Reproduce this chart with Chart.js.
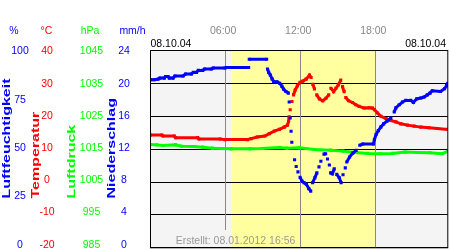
<!DOCTYPE html>
<html>
<head>
<meta charset="utf-8">
<title>Wetter 08.10.04</title>
<script src="https://cdn.jsdelivr.net/npm/chart.js@4.4.1/dist/chart.umd.min.js"></script>
<style>
    body { margin: 0; background: #fff; }
    #wrap { width: 450px; height: 250px; }
</style>
</head>
<body>
<div id="wrap"><canvas id="weatherChart" width="450" height="250"></canvas></div>
<script>
// Readings taken off the chart: [hour of day, value]
const humidity = [
    [0, 85.2], [0.3, 85.2], [0.6, 85.5], [0.75, 86], [1.1, 86], [1.2, 86.8], [1.4, 86.8], [1.5, 86],
    [1.8, 86], [1.95, 87.1], [2.6, 87.1], [2.8, 88.1], [3.27, 88.1], [3.42, 88.9], [3.67, 88.9],
    [3.82, 89.9], [4.17, 89.9], [4.32, 90.6], [4.86, 90.6], [5.01, 91.1], [5.95, 91.1], [6.05, 91.4],
    [7.84, 91.4], [7.89, 95.6], [9.28, 95.6], [9.35, 90.6], [9.44, 88.9], [9.57, 87.6], [9.71, 85.6],
    [9.84, 84.3], [10.11, 84.1], [10.32, 83.4], [10.5, 81.8], [10.63, 80.4], [10.82, 79.2],
    [11.01, 78.4], [11.08, 73.9], [11.16, 65.8], [11.23, 59.1], [11.29, 53.5], [11.51, 44.6],
    [11.64, 41.2], [11.78, 38.5], [11.95, 35.7], [12.1, 33.8], [12.27, 33], [12.45, 32.2],
    [12.65, 30], [12.8, 28.7], [12.95, 33], [13.13, 35.5], [13.29, 38], [13.46, 41], [13.61, 43.9],
    [13.86, 47.5], [13.99, 47.7], [14.14, 45], [14.29, 42], [14.39, 38], [14.53, 37.5], [14.68, 40],
    [14.88, 37.2], [15.08, 35.5], [15.23, 33], [15.38, 37], [15.56, 40.5], [15.68, 43.5], [15.9, 46],
    [16.16, 48], [16.43, 49.4], [16.72, 52], [16.96, 52.6], [17.81, 52.6], [17.89, 54.9],
    [18.02, 57.4], [18.2, 59.4], [18.41, 61.3], [18.62, 62.8], [18.89, 64.2], [19.2, 65.8],
    [19.47, 68.8], [19.6, 70.9], [19.87, 72.5], [20.13, 73.9], [20.4, 74.7], [20.79, 74.7],
    [21.0, 73.7], [21.27, 75.5], [21.59, 75.9], [21.85, 76.4], [22.11, 77.5], [22.33, 78.4],
    [22.51, 79.6], [23.17, 79.2], [23.49, 80.6], [23.65, 82.2], [23.75, 83.4]
];
const temperature = [
    [0, 14.3], [0.9, 14.3], [1.0, 14.0], [1.9, 14.0], [2.0, 13.5], [3.77, 13.5], [3.87, 13.1],
    [5.56, 13.1], [5.95, 12.9], [7.74, 12.9], [8.04, 13.2], [8.53, 13.7], [9.13, 14.0], [9.49, 14.7],
    [9.89, 15.5], [10.29, 16], [10.68, 16.7], [10.95, 17.3], [11.03, 18.5], [11.08, 19.8],
    [11.16, 22], [11.3, 24.5], [11.43, 26.5], [11.56, 28], [11.74, 29.3], [11.95, 30.3],
    [12.17, 30.7], [12.43, 31.3], [12.7, 32.5], [12.83, 31.8], [12.97, 29.7], [13.1, 28.3],
    [13.28, 26.5], [13.49, 25.3], [13.76, 24.7], [14.02, 25.5], [14.24, 26.5], [14.41, 28.5],
    [14.63, 27.5], [14.81, 28.5], [15.0, 29.5], [15.2, 31], [15.34, 29], [15.47, 27.5], [15.6, 25.7],
    [15.82, 24.7], [16.14, 24.2], [16.4, 23.5], [16.66, 23], [17.06, 22.5], [17.46, 22.6],
    [17.73, 22.5], [17.89, 22], [18.14, 21], [18.41, 20], [18.81, 19.3], [19.2, 18.7], [19.6, 18.3],
    [20.0, 17.7], [20.53, 17.3], [21.06, 17], [21.59, 16.7], [22.25, 16.5], [22.91, 16.3], [23.75, 16]
];
const pressure = [
    [0, 1016.4], [0.5, 1016.3], [1, 1016.1], [2, 1016.3], [2.5, 1015.9], [3.47, 1015.8],
    [4.17, 1015.6], [4.96, 1015.3], [6.45, 1015.1], [7.94, 1015.1], [8.93, 1015.2], [10.3, 1015.5],
    [10.9, 1015.3], [11.9, 1015.4], [13.1, 1014.9], [14.4, 1014.7], [15.38, 1014.4], [16.37, 1014],
    [17.36, 1013.7], [18.35, 1013.6], [19.35, 1013.7], [20.34, 1014.1], [21.33, 1014], [22.32, 1013.9],
    [23.3, 1013.6], [23.75, 1014.3]
];

// Axis ticks
const humTicks = [0, 25, 50, 75, 100];
const tempTicks = [-20, -10, 0, 10, 20, 30, 40];
const pressTicks = [985, 995, 1005, 1015, 1025, 1035, 1045];
const rainTicks = [0, 4, 8, 12, 16, 20, 24];
const timeTicks = [6, 12, 18];
const timeLabels = ['06:00', '12:00', '18:00'];
const daylight = [6.45, 18.0];
const dateLabel = '08.10.04';
const createdLabel = 'Erstellt: 08.01.2012 16:56';

const FONT = '"Liberation Sans", Arial, sans-serif';
const BLUE = '#0000ff', RED = '#ff0000', GREEN = '#00ff00';

function makeSeries(points, color, axis) {
    return {
        data: points.map(p => ({ x: p[0], y: p[1] })),
        yAxisID: axis,
        borderColor: color,
        backgroundColor: color,
        borderWidth: 3,
        pointStyle: 'rect',
        pointRadius: 2.2,
        pointHoverRadius: 2.2,
        pointBorderWidth: 0,
        tension: 0,
        // big jumps show up as loose dots in the original, not as a line
        segment: { borderColor: ctx => Math.abs(ctx.p1.y - ctx.p0.y) > 5 ? 'transparent' : color }
    };
}

// label column: compressed a little, like the original
function labelY(scale, v) {
    const px = scale.getPixelForValue(v);
    return scale.top + (px - scale.top) * 0.98;
}

const backdrop = {
    id: 'backdrop',
    beforeDatasetsDraw(chart) {
        const { ctx, chartArea: a, scales } = chart;
        const x = scales.x;
        ctx.save();
        ctx.fillStyle = '#f4f4f4';
        ctx.fillRect(a.left, a.top, a.right - a.left, a.bottom - a.top);

        // daylight band
        const x0 = x.getPixelForValue(daylight[0]);
        const x1 = x.getPixelForValue(daylight[1]);
        ctx.fillStyle = '#ffffa0';
        ctx.fillRect(x0, a.top, x1 - x0, a.bottom - a.top);

        // horizontal lines
        ctx.strokeStyle = '#000';
        ctx.lineWidth = 1;
        tempTicks.forEach(t => {
            const y = Math.floor(scales.yTemp.getPixelForValue(t)) + 0.5;
            ctx.beginPath();
            ctx.moveTo(a.left, y);
            ctx.lineTo(a.right, y);
            ctx.stroke();
        });

        // vertical hour lines, kept clear of the footer text
        ctx.font = '10.5px ' + FONT;
        const cx = 235.5;
        const w = ctx.measureText(createdLabel).width;
        ctx.strokeStyle = '#888';
        timeTicks.forEach(t => {
            const px = Math.floor(x.getPixelForValue(t)) + 0.5;
            const end = (px > cx - w / 2 && px < cx + w / 2) ? 230 : a.bottom;
            ctx.beginPath();
            ctx.moveTo(px, a.top);
            ctx.lineTo(px, end);
            ctx.stroke();
        });
        ctx.restore();
    },
    afterDraw(chart) {
        const { ctx, chartArea: a, scales } = chart;
        ctx.save();

        // frame
        ctx.strokeStyle = '#000';
        ctx.lineWidth = 1;
        ctx.strokeRect(a.left, a.top, a.right - a.left, a.bottom - a.top);

        ctx.font = '10.5px ' + FONT;
        ctx.textAlign = 'center';
        ctx.textBaseline = 'alphabetic';

        // unit headers
        [['%', 14, BLUE], ['°C', 46.5, RED], ['hPa', 90, GREEN], ['mm/h', 132.5, BLUE]].forEach(h => {
            ctx.fillStyle = h[2];
            ctx.fillText(h[0], h[1], 34);
        });

        // tick columns
        const cols = [
            [humTicks, scales.yHum, 20, BLUE],
            [tempTicks, scales.yTemp, 47, RED],
            [pressTicks, scales.yPress, 91.5, GREEN],
            [rainTicks, scales.yRain, 124, BLUE]
        ];
        cols.forEach(([ticks, scale, cx, color]) => {
            ctx.fillStyle = color;
            ticks.forEach(v => ctx.fillText(String(v), cx, labelY(scale, v) + 3.8));
        });

        // rotated axis titles (stretched like the original)
        ctx.font = 'bold 10px ' + FONT;
        ctx.textAlign = 'left';
        [['Luftfeuchtigkeit', 9.5, BLUE], ['Temperatur', 38.5, RED], ['Luftdruck', 75, GREEN], ['Niederschlag', 115, BLUE]].forEach(t => {
            ctx.save();
            ctx.translate(t[1], 198.5);
            ctx.rotate(-Math.PI / 2);
            ctx.scale(1.6, 1);
            ctx.fillStyle = t[2];
            ctx.fillText(t[0], 0, 0);
            ctx.restore();
        });

        // dates and hours on top
        ctx.font = '10.5px ' + FONT;
        ctx.fillStyle = '#000';
        ctx.textAlign = 'left';
        ctx.fillText(dateLabel, a.left, 47);
        ctx.textAlign = 'right';
        ctx.fillText(dateLabel, 446, 47);

        ctx.fillStyle = '#888';
        ctx.textAlign = 'center';
        timeTicks.forEach((t, i) => {
            ctx.fillText(timeLabels[i], scales.x.getPixelForValue(t) - 2.5, 33.5);
        });

        // footer
        ctx.fillStyle = '#999';
        ctx.fillText(createdLabel, 235.5, 244);
        ctx.restore();
    }
};

new Chart(document.getElementById('weatherChart'), {
    type: 'line',
    data: {
        datasets: [
            makeSeries(humidity, BLUE, 'yHum'),
            makeSeries(temperature, RED, 'yTemp'),
            makeSeries(pressure, GREEN, 'yPress')
        ]
    },
    options: {
        responsive: false,
        animation: false,
        devicePixelRatio: 1,
        layout: { padding: { left: 150.5, top: 50.5, right: 0.5, bottom: 1.5 } },
        plugins: { legend: { display: false }, tooltip: { enabled: false } },
        scales: {
            x: { type: 'linear', min: 0, max: 23.75, display: false },
            yHum: { type: 'linear', min: 0, max: 100, display: false },
            yTemp: { type: 'linear', min: -20, max: 40, display: false },
            yPress: { type: 'linear', min: 985, max: 1045, display: false },
            yRain: { type: 'linear', min: 0, max: 24, display: false }
        }
    },
    plugins: [backdrop]
});
</script>
</body>
</html>
